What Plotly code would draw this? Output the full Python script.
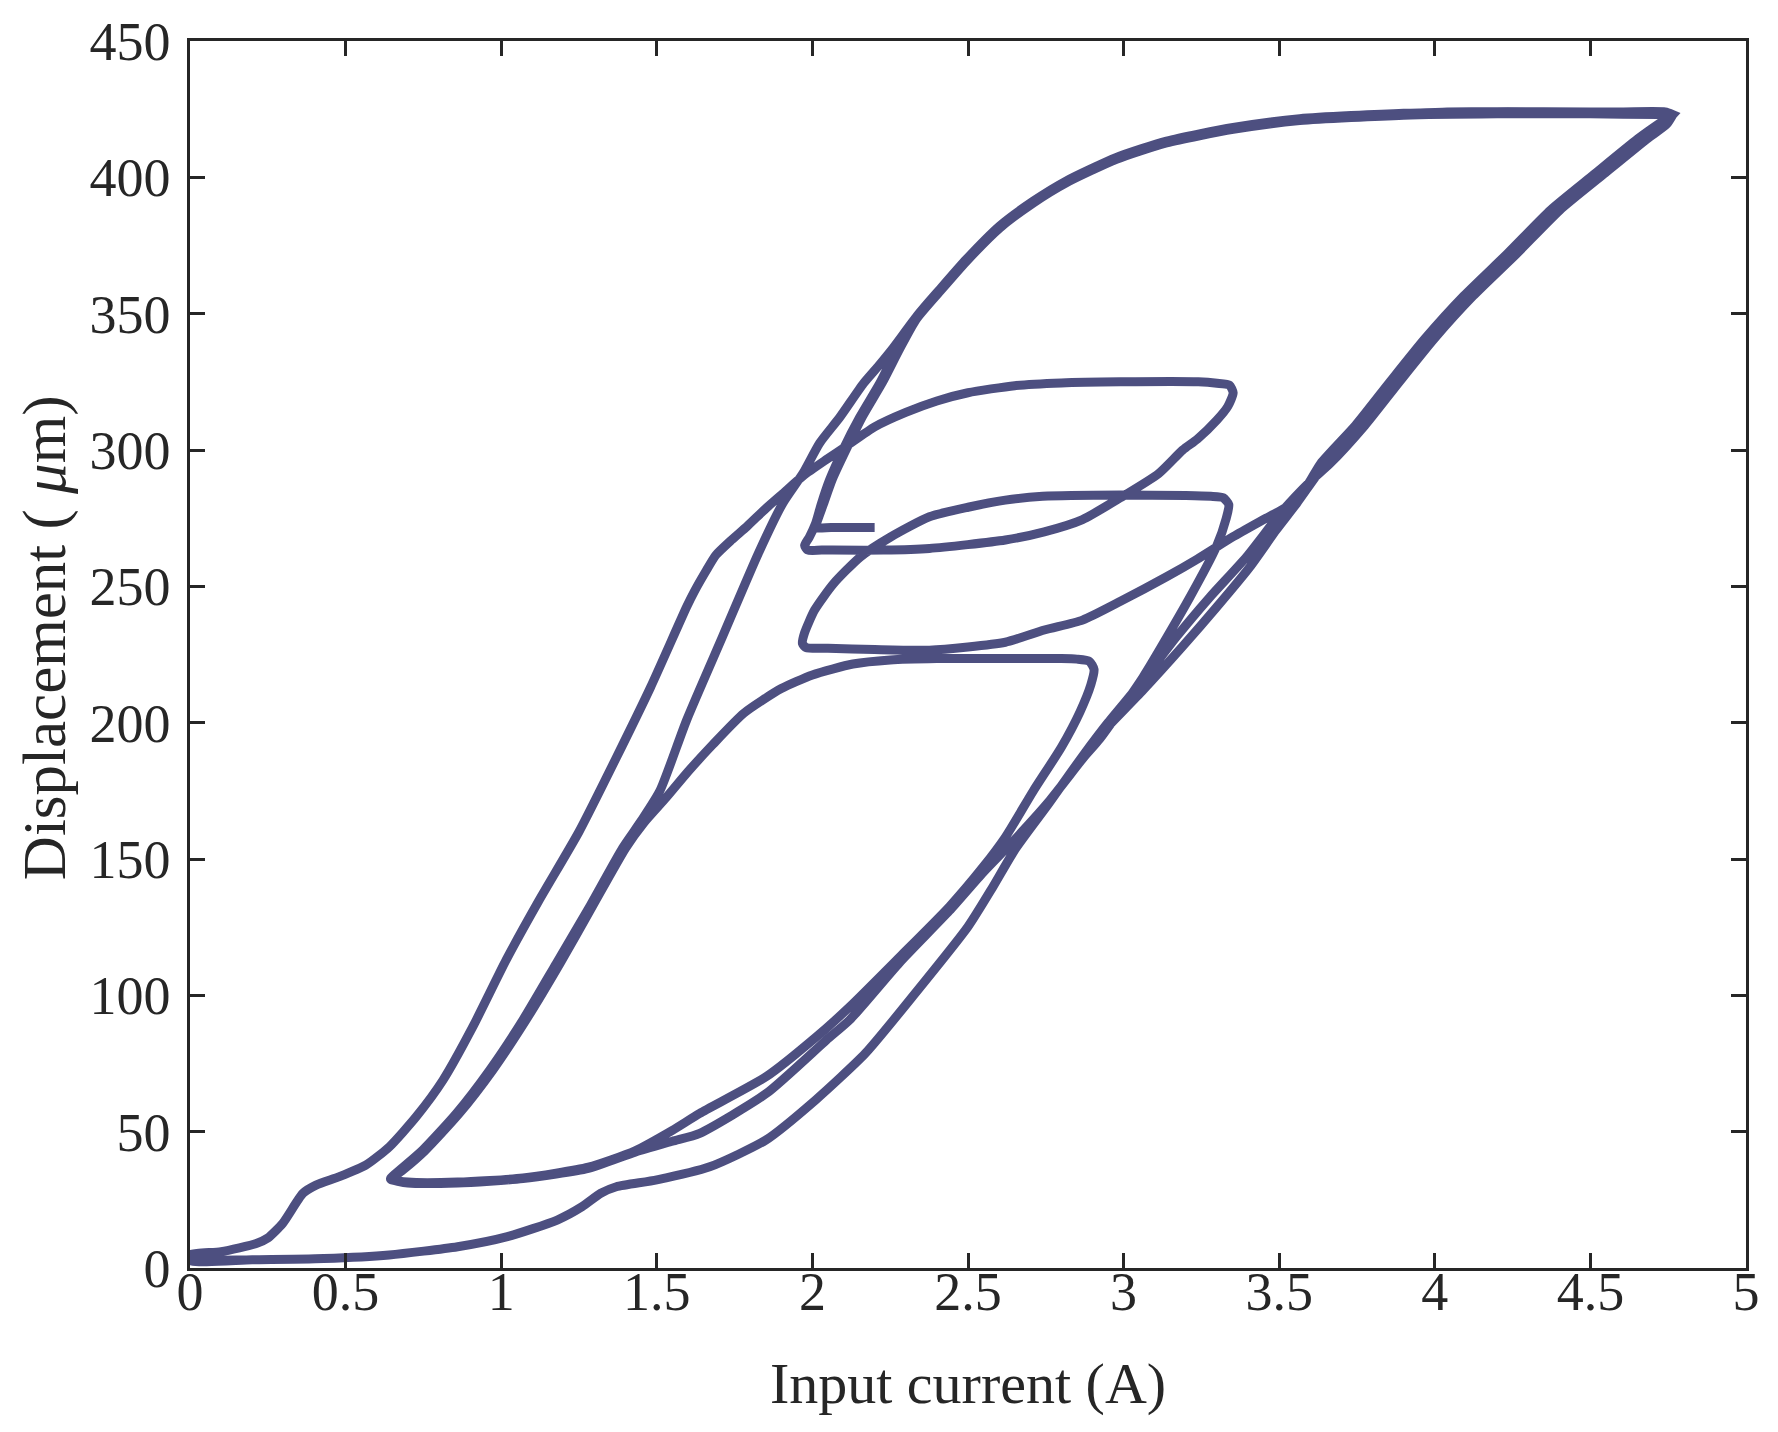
import plotly.graph_objects as go

# ---------------- data ----------------
# Virgin ascending branch 0 -> 4.75 A
seg_A_x = [0.00, 0.20, 0.43, 0.64, 0.86, 1.02, 1.18, 1.26, 1.32, 1.37, 1.50, 1.67, 1.85, 2.01, 2.17, 2.33, 2.50, 2.58, 2.65, 2.76, 2.87, 2.92, 3.063, 3.19, 3.30, 3.405, 3.49, 3.556, 3.648, 3.76, 3.871, 3.983, 4.108, 4.248, 4.387, 4.526, 4.666, 4.735, 4.765]
seg_A_y = [2.7, 3.0, 3.5, 4.8, 7.8, 11.5, 17.6, 22.5, 27.4, 29.8, 32.3, 37.1, 46.9, 61.6, 78.7, 100.7, 125.2, 139.8, 153.3, 170.4, 188.0, 195.0, 212.0, 228.0, 242.5, 257.0, 270.6, 280.4, 295.0, 309.0, 325.0, 340.8, 356.5, 372.0, 388.0, 401.0, 414.0, 419.5, 423.0]

# First descent 4.75 -> 0.65 A
seg_X1_x = [4.765, 4.74, 4.60, 4.30, 4.04, 3.90, 3.76, 3.566, 3.352, 3.138, 2.977, 2.816, 2.71, 2.602, 2.495, 2.41, 2.334, 2.26, 2.21, 2.164, 2.088, 2.023, 1.97, 1.905, 1.826, 1.711, 1.596, 1.51, 1.45, 1.39, 1.284, 1.177, 1.07, 0.963, 0.856, 0.748, 0.68, 0.645]
seg_X1_y = [423.0, 424.0, 424.0, 424.0, 424.0, 423.3, 422.6, 421.2, 418.0, 413.0, 407.0, 398.4, 391.0, 381.8, 369.6, 358.6, 348.8, 337.5, 330.5, 324.4, 312.0, 302.5, 291.5, 280.5, 262.0, 231.5, 201.0, 175.0, 164.0, 154.0, 132.5, 111.7, 91.0, 72.6, 56.7, 43.3, 36.5, 33.0]

# Ascent 0.65 -> 2.9 A
seg_a_x = [0.645, 0.70, 0.86, 1.07, 1.28, 1.43, 1.55, 1.638, 1.852, 2.013, 2.12, 2.28, 2.44, 2.548, 2.62, 2.71, 2.80, 2.86, 2.895, 2.905, 2.89, 2.85]
seg_a_y = [32.5, 31.5, 31.5, 33.0, 37.0, 43.0, 50.5, 56.7, 70.2, 84.8, 95.8, 114.0, 132.5, 147.0, 158.0, 175.0, 191.0, 204.0, 214.0, 219.5, 222.5, 223.3]

# Descent 2.9 -> 0.65 A
seg_Z_x = [2.80, 2.60, 2.40, 2.25, 2.13, 2.00, 1.90, 1.78, 1.68, 1.60, 1.53, 1.46, 1.40, 1.295, 1.188, 1.08, 0.973, 0.864, 0.755, 0.685, 0.648]
seg_Z_y = [223.5, 223.5, 223.5, 223.0, 221.5, 217.5, 212.5, 203.5, 192.0, 182.0, 172.5, 163.5, 154.0, 133.0, 111.5, 91.0, 72.6, 56.5, 43.0, 36.0, 32.8]

# Ascent 0.65 -> 3.34 A
seg_b_x = [0.645, 0.70, 0.86, 1.07, 1.28, 1.43, 1.55, 1.638, 1.852, 2.045, 2.12, 2.28, 2.44, 2.548, 2.645, 2.763, 2.87, 2.923, 3.063, 3.213, 3.298, 3.33, 3.338, 3.32, 3.28]
seg_b_y = [32.5, 31.2, 31.2, 32.8, 36.5, 42.5, 46.5, 49.4, 64.0, 83.6, 91.0, 112.0, 131.0, 145.0, 156.5, 171.5, 187.0, 194.0, 216.8, 246.0, 264.5, 275.0, 280.0, 282.5, 283.0]

# Descent 3.34 -> 1.97 A
seg_M_x = [3.20, 2.99, 2.74, 2.62, 2.50, 2.376, 2.25, 2.154, 2.068, 2.007, 1.975, 1.968, 1.98]
seg_M_y = [283.3, 283.5, 283.0, 281.6, 279.0, 275.5, 268.0, 260.8, 251.0, 241.3, 233.0, 229.0, 227.5]

# Ascent 1.97 -> 4.75 A
seg_M2_x = [2.05, 2.20, 2.376, 2.62, 2.745, 2.868, 2.99, 3.138, 3.237, 3.352, 3.45, 3.524, 3.59, 3.633, 3.745, 3.856, 3.968, 4.093, 4.233, 4.372, 4.511, 4.651, 4.725, 4.765]
seg_M2_y = [227.3, 226.8, 226.6, 229.5, 234.0, 237.6, 244.5, 253.5, 260.0, 268.2, 274.5, 279.2, 287.0, 295.0, 309.0, 325.0, 340.8, 356.5, 372.0, 388.0, 401.0, 414.0, 420.0, 423.0]

# Descent 4.75 -> 1.97 A
seg_X2_x = [4.765, 4.72, 4.50, 4.20, 3.90, 3.566, 3.352, 3.138, 2.977, 2.816, 2.71, 2.602, 2.495, 2.41, 2.334, 2.27, 2.216, 2.152, 2.10, 2.055, 2.028, 2.01, 1.99, 1.975, 1.985, 2.03]
seg_X2_y = [423.0, 423.8, 424.0, 424.0, 423.5, 421.5, 418.3, 413.3, 407.3, 398.7, 391.3, 382.2, 370.0, 359.0, 348.8, 336.5, 324.4, 312.0, 300.5, 289.0, 280.0, 273.0, 268.0, 265.0, 263.3, 263.3]

# Ascent 1.97 -> 3.35 A
seg_U_x = [2.228, 2.376, 2.62, 2.745, 2.868, 2.99, 3.113, 3.19, 3.237, 3.30, 3.335, 3.352, 3.34, 3.30]
seg_U_y = [263.3, 263.9, 267.0, 270.0, 274.5, 282.5, 291.4, 300.0, 304.0, 311.0, 316.0, 321.0, 323.8, 324.5]

# Descent 3.35 -> 0 A
seg_B_x = [3.24, 2.99, 2.80, 2.65, 2.50, 2.40, 2.30, 2.20, 2.11, 2.045, 1.97, 1.905, 1.85, 1.79, 1.74, 1.69, 1.66, 1.62, 1.596, 1.48, 1.367, 1.25, 1.12, 1.016, 0.909, 0.813, 0.727, 0.641, 0.566, 0.48, 0.405, 0.363, 0.298, 0.25, 0.213, 0.10, 0.0]
seg_B_y = [325.0, 325.0, 324.6, 323.6, 321.0, 318.0, 313.8, 308.5, 301.5, 296.5, 290.5, 284.0, 278.5, 272.0, 267.0, 261.5, 256.0, 248.0, 242.5, 213.0, 186.5, 160.0, 134.5, 113.0, 88.5, 68.9, 55.5, 44.5, 37.8, 33.5, 30.4, 27.4, 16.4, 11.0, 9.0, 6.0, 4.8]

# Second ascent 0 -> 4.75 A (leaves the first one near 2.95 A)
seg_V_x = [2.95, 3.063, 3.17, 3.277, 3.395, 3.513, 3.60, 3.663, 3.775, 3.886, 3.998, 4.123, 4.263, 4.402, 4.541, 4.681, 4.745, 4.765]
seg_V_y = [200.0, 215.6, 231.5, 246.0, 260.8, 278.0, 288.5, 295.0, 309.0, 325.0, 340.8, 356.5, 372.0, 388.0, 401.0, 414.0, 419.5, 423.0]

# Last descent 4.75 -> 2.0 and the short final rise to 2.2 A
seg_X3_x = [4.765, 4.72, 4.50, 4.20, 3.90, 3.566, 3.352, 3.138, 2.977, 2.816, 2.71, 2.602, 2.495, 2.41, 2.334, 2.28, 2.226, 2.162, 2.11, 2.065, 2.035, 2.016, 2.01, 2.06, 2.20]
seg_X3_y = [423.0, 423.0, 423.3, 423.3, 422.8, 420.8, 417.6, 412.6, 406.6, 398.0, 390.6, 381.4, 369.2, 358.2, 348.0, 337.0, 325.0, 312.5, 300.5, 289.5, 280.0, 274.0, 271.6, 271.6, 271.6]

x_ticks = [0, 0.5, 1, 1.5, 2, 2.5, 3, 3.5, 4, 4.5, 5]
x_tick_text = ["0", "0.5", "1", "1.5", "2", "2.5", "3", "3.5", "4", "4.5", "5"]
y_ticks = [0, 50, 100, 150, 200, 250, 300, 350, 400, 450]
y_tick_text = ["0", "50", "100", "150", "200", "250", "300", "350", "400", "450"]

# ---------------- build the path ----------------
n_shared = 21  # points of the first ascent reused by the second ascent (below 2.95 A)
path_x = (seg_A_x + seg_X1_x + seg_a_x + seg_Z_x + seg_b_x + seg_M_x + seg_M2_x +
          seg_X2_x + seg_U_x + seg_B_x + seg_A_x[:n_shared] + seg_V_x + seg_X3_x)
path_y = (seg_A_y + seg_X1_y + seg_a_y + seg_Z_y + seg_b_y + seg_M_y + seg_M2_y +
          seg_X2_y + seg_U_y + seg_B_y + seg_A_y[:n_shared] + seg_V_y + seg_X3_y)

LINE = "#4d4f80"
INK = "#262626"
FONT = "Liberation Serif"

fig = go.Figure()
fig.add_trace(go.Scatter(
    x=path_x, y=path_y, mode="lines",
    line=dict(color=LINE, width=9, shape="spline", smoothing=0.6),
    showlegend=False, hoverinfo="skip",
))

axis_common = dict(
    showline=True, linecolor=INK, linewidth=2.5, mirror="ticks",
    ticks="inside", ticklen=15, tickwidth=2.5, tickcolor=INK,
    showgrid=False, zeroline=False, automargin=False,
    tickfont=dict(family=FONT, size=54, color=INK),
)

fig.update_layout(
    width=1770, height=1424,
    margin=dict(l=182, r=32, t=33, b=164),
    paper_bgcolor="white", plot_bgcolor="white",
    xaxis=dict(range=[0, 5], tickvals=x_ticks, ticktext=x_tick_text,
               ticklabelstandoff=-26,
               title=dict(text="Input current (A)", font=dict(family=FONT, size=58, color=INK), standoff=42),
               **axis_common),
    yaxis=dict(range=[0, 450], tickvals=y_ticks, ticktext=y_tick_text,
               ticklabelstandoff=6,
               **axis_common),
    annotations=[dict(
        text="Displacement ( <i>μ</i>m)", textangle=-90,
        xref="paper", yref="paper", x=-0.0933, y=0.514,
        xanchor="center", yanchor="middle", showarrow=False,
        font=dict(family=FONT, size=61, color=INK),
    )],
)

fig.write_html("out.html")
